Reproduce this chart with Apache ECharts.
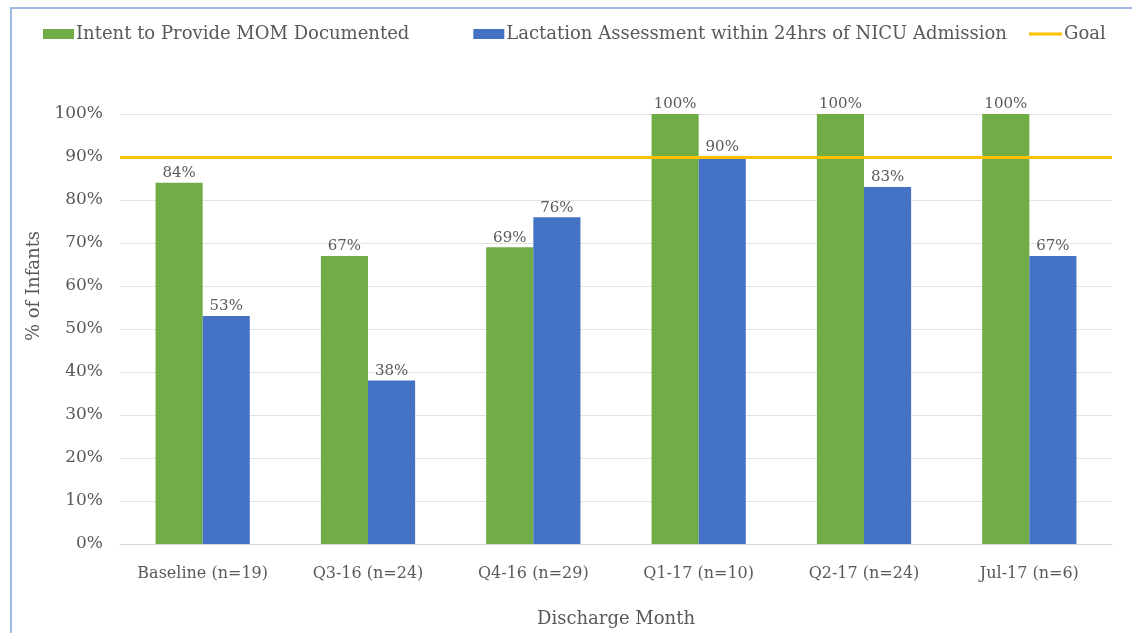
<!DOCTYPE html>
<html>
<head>
<meta charset="utf-8">
<script src="https://cdn.jsdelivr.net/npm/echarts@6/dist/echarts.min.js"></script>
<style>
  html, body { margin: 0; padding: 0; background: #fff; overflow: hidden; }
  #frame {
    position: absolute; left: 10px; top: 7px; width: 1130px; height: 640px;
    border-left: 2px solid #9dbbe0; border-top: 2px solid #9dbbe0;
    box-sizing: border-box;
  }
  #chart { position: absolute; left: 0; top: 0; width: 1132px; height: 633px; }
</style>
</head>
<body>
<div id="frame"></div>
<div id="chart"></div>
<script>
// discharge periods
const categories = ['Baseline (n=19)', 'Q3-16 (n=24)', 'Q4-16 (n=29)', 'Q1-17 (n=10)', 'Q2-17 (n=24)', 'Jul-17 (n=6)']
const intentMOM = [84, 67, 69, 100, 100, 100]
const lactationAssess = [53, 38, 76, 90, 83, 67]
const goal = 90
const yTicks = [0, 10, 20, 30, 40, 50, 60, 70, 80, 90, 100]

const font = 'DejaVu Serif'
const grey = '#595959'

const chart = echarts.init(document.getElementById('chart'))

const legendText = { fontFamily: font, fontSize: 18, color: grey, padding: [0, 0, 0, -3] }

const option = {
  animation: false,
  textStyle: { fontFamily: font },
  legend: [
    {
      left: 38,
      top: 20,
      itemWidth: 31,
      itemHeight: 10,
      itemGap: 64,
      textStyle: legendText,
      data: [
        { name: 'Intent to Provide MOM Documented', icon: 'rect' },
        { name: 'Lactation Assessment within 24hrs of NICU Admission', icon: 'rect' }
      ]
    },
    {
      left: 1024,
      top: 20,
      itemWidth: 33,
      itemHeight: 10,
      textStyle: legendText,
      data: [{ name: 'Goal', icon: 'path://M0,0 L33,0 L33,3 L0,3 Z' }]
    }
  ],
  grid: { left: 120, right: 20, top: 114, bottom: 86 },
  xAxis: {
    type: 'category',
    data: categories,
    name: 'Discharge Month',
    nameLocation: 'middle',
    nameGap: 66,
    nameTextStyle: { fontFamily: font, fontSize: 18, color: grey },
    axisTick: { show: false },
    axisLine: { lineStyle: { color: '#d9d9d9', width: 1 } },
    axisLabel: { interval: 0, fontFamily: font, fontSize: 16, color: grey, margin: 22 }
  },
  yAxis: {
    type: 'value',
    min: yTicks[0],
    max: yTicks[yTicks.length - 1],
    interval: 10,
    name: '% of Infants',
    nameLocation: 'middle',
    nameGap: 76,
    nameTextStyle: { fontFamily: font, fontSize: 18, color: grey, padding: [0, 0, 0, 86] },
    axisLine: { show: false },
    axisTick: { show: false },
    axisLabel: { fontFamily: font, fontSize: 17, color: grey, margin: 17, formatter: '{value}%' },
    splitLine: { lineStyle: { color: '#e3e3e3', width: 1 } }
  },
  series: [
    {
      name: 'Intent to Provide MOM Documented',
      type: 'bar',
      data: intentMOM,
      barWidth: '28.5%',
      barGap: '0%',
      itemStyle: { color: '#70ad47' },
      label: { show: true, position: 'top', distance: 2, formatter: '{c}%', fontFamily: font, fontSize: 15, color: grey }
    },
    {
      name: 'Lactation Assessment within 24hrs of NICU Admission',
      type: 'bar',
      data: lactationAssess,
      barWidth: '28.5%',
      itemStyle: { color: '#4472c4' },
      label: { show: true, position: 'top', distance: 2, formatter: '{c}%', fontFamily: font, fontSize: 15, color: grey }
    },
    {
      name: 'Goal',
      type: 'line',
      data: [],
      itemStyle: { color: '#ffc000' },
      lineStyle: { color: '#ffc000', width: 3 },
      z: 5,
      markLine: {
        silent: true,
        symbol: 'none',
        label: { show: false },
        lineStyle: { color: '#ffc000', width: 3, type: 'solid' },
        data: [{ yAxis: goal }]
      }
    }
  ]
}

chart.setOption(option)
</script>
</body>
</html>
